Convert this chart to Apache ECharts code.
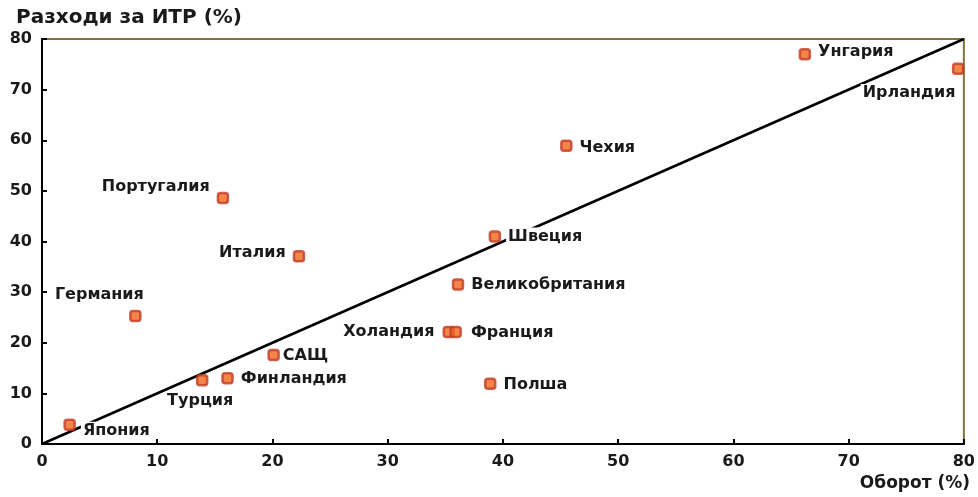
<!DOCTYPE html>
<html><head><meta charset="utf-8">
<script src="https://cdn.jsdelivr.net/npm/echarts@6/dist/echarts.min.js"></script>
<style>html,body{margin:0;padding:0;background:#fff}#c{width:978px;height:497px}</style>
</head><body><div id="c"></div>
<script>
const countries = ['Япония','Турция','Финландия','САЩ','Германия','Португалия','Италия','Холандия','Франция','Полша','Великобритания','Швеция','Чехия','Унгария','Ирландия'];
const turnover = [2.4, 13.9, 16.1, 20.1, 8.1, 15.7, 22.3, 35.3, 35.9, 38.9, 36.1, 39.3, 45.5, 66.2, 79.5];
const rdSpending = [3.8, 12.6, 13.0, 17.6, 25.3, 48.6, 37.1, 22.1, 22.1, 11.9, 31.5, 41.0, 58.9, 77.0, 74.1];
const labelPos = ['right','bottom','right','right','top','left','left','left','right','right','right','right','right','right','bottom'];
const labelOffset = [[0,6],[-2,0],[0,1],[-4,1],[-36,-1],[0,-11],[0,-3],[-1,0],[2,1],[0,1],[0,0],[0,0],[0,2],[0,-2],[-49,4]];
const xTicks = [0,10,20,30,40,50,60,70,80];
const yTicks = [0,10,20,30,40,50,60,70,80];
const yTitle = 'Разходи за ИТР (%)';
const xTitle = 'Оборот (%)';

const FONT = 'DejaVu Sans';
const pts = countries.map((c,i)=>({
  name: c,
  value: [turnover[i], rdSpending[i]],
  label: {position: labelPos[i], offset: labelOffset[i]}
}));

const chart = echarts.init(document.getElementById('c'), null, {renderer:'canvas'});
chart.setOption({
  animation: false,
  backgroundColor: '#fff',
  title: [
    {text: yTitle, left: 11, top: 3, textStyle: {fontFamily: FONT, fontWeight: 'bold', fontSize: 20, color: '#1a1a1a'}},
    {text: xTitle, right: 3, bottom: 0, textStyle: {fontFamily: FONT, fontWeight: 'bold', fontSize: 17, color: '#1a1a1a'}}
  ],
  grid: {left: 42, right: 10, top: 39, bottom: 53, show: true, borderColor: '#80753f', borderWidth: 2, backgroundColor: '#fff'},
  xAxis: {
    type: 'value', min: 0, max: 80, interval: 10,
    axisLine: {show: true, onZero: false, lineStyle: {color: '#000', width: 2}},
    axisTick: {show: true, inside: true, length: 5, lineStyle: {color: '#000', width: 2}},
    splitLine: {show: false},
    axisLabel: {fontFamily: FONT, fontWeight: 'bold', fontSize: 16, color: '#1a1a1a', margin: 10,
      formatter: v => xTicks.includes(v) ? String(v) : ''}
  },
  yAxis: {
    type: 'value', min: 0, max: 80, interval: 10,
    axisLine: {show: true, onZero: false, lineStyle: {color: '#000', width: 2}},
    axisTick: {show: true, inside: true, length: 5, lineStyle: {color: '#000', width: 2}},
    splitLine: {show: false},
    axisLabel: {fontFamily: FONT, fontWeight: 'bold', fontSize: 16, color: '#1a1a1a', margin: 10,
      formatter: v => yTicks.includes(v) ? String(v) : ''}
  },
  series: [
    {
      type: 'line', z: 1, silent: true, symbol: 'none',
      data: [[0,0],[80,80]],
      lineStyle: {color: '#000', width: 2.5}
    },
    {
      type: 'scatter', z: 3, symbol: 'roundRect', symbolSize: 10,
      itemStyle: {color: '#f0661c', borderColor: '#c23a26', borderWidth: 2.5},
      label: {show: true, formatter: '{b}', fontFamily: FONT, fontWeight: 'bold', fontSize: 16, color: '#1a1a1a',
        textBorderWidth: 0, opacity: 1,
        distance: 5, backgroundColor: '#fff', padding: [1,2]},
      data: pts
    }
  ]
});
</script></body></html>
